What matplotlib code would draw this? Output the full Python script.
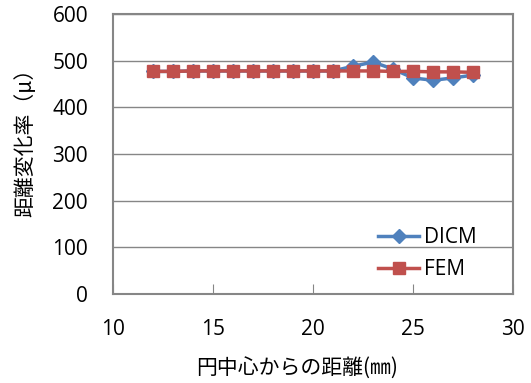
import matplotlib
matplotlib.use("Agg")
import matplotlib.pyplot as plt

x = [12, 13, 14, 15, 16, 17, 18, 19, 20, 21, 22, 23, 24, 25, 26, 27, 28]
dicm = [477, 477, 478, 478, 478, 478, 478, 478, 478, 478, 488, 497, 482, 463, 458, 463, 469]
fem = [477, 477, 478, 478, 478, 478, 478, 478, 478, 478, 478, 478, 477, 477, 476, 476, 475]
xticks = [10, 15, 20, 25, 30]
yticks = [0, 100, 200, 300, 400, 500, 600]

plt.rcParams['font.family'] = ['Open Sans', 'Noto Sans CJK JP', 'DejaVu Sans']

fig = plt.figure(figsize=(5.31, 3.83), dpi=100)
ax = fig.add_axes([113/531, 1-294/383, 400/531, 280/383])

grid_c = '#868686'
for yv in yticks[1:]:
    ax.axhline(yv, color=grid_c, lw=1, zorder=0)

ax.plot(x, dicm, color='#4F81BD', lw=2.5, marker='D', markersize=7.5, label='DICM', zorder=2)
ax.plot(x, fem, color='#C0504D', lw=2.5, marker='s', markersize=9, label='FEM', zorder=3)

ax.set_xlim(10, 30)
ax.set_ylim(0, 600)
ax.set_xticks(xticks)
ax.set_yticks(yticks)
for s in ax.spines.values():
    s.set_color(grid_c)
    s.set_linewidth(1.5)
ax.tick_params(axis='x', direction='in', length=7, color=grid_c, labelsize=15, pad=18)
ax.tick_params(axis='y', direction='out', length=0, labelsize=15, pad=18)

ax.set_xlabel('円中心からの距離(㎜)', fontsize=15, family=['Noto Sans CJK JP'], va='center')
ax.xaxis.set_label_coords((297-113)/400, (294-369)/280)
ax.set_ylabel('距離変化率（μ）', fontsize=15, family=['Noto Sans CJK JP', 'DejaVu Sans'], va='center')
ax.yaxis.set_label_coords((25-113)/400, (294-137)/280)

leg = ax.legend(loc='lower right', bbox_to_anchor=(0.955, -0.018), frameon=False, fontsize=15,
                handlelength=2.0, handletextpad=0.2, labelspacing=0.55)

fig.savefig('out.png', dpi=100)
